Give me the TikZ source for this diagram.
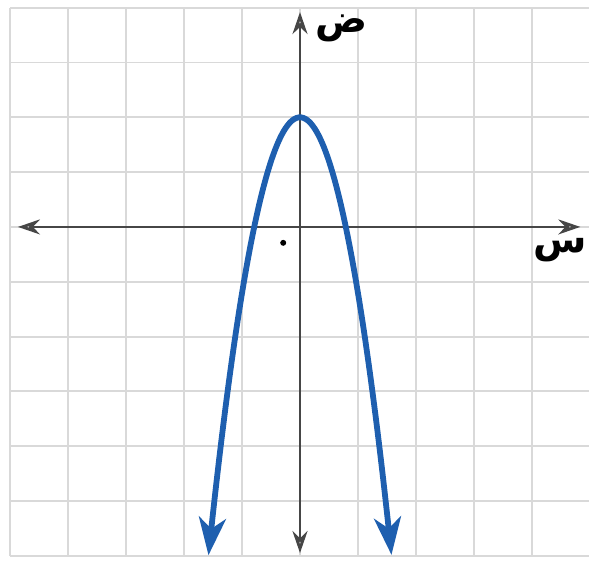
\documentclass[tikz,border=0pt]{standalone}
\usepackage{fontspec}
\usetikzlibrary{arrows.meta}
\newfontfamily\arabicfont[Script=Arabic]{DejaVu Sans}
\TeXXeTstate=1
\definecolor{curveblue}{RGB}{30,95,175}
\definecolor{axisgray}{RGB}{70,70,70}

\begin{document}
\begin{tikzpicture}[x=1.158cm, y=1.096cm,
    gridline/.style={draw=gray!30, line width=1.1pt},
    axisline/.style={draw=axisgray, line width=1.6pt, {Stealth[open, length=4.4mm, width=3mm]}-{Stealth[open, length=4.4mm, width=3mm]}},
    curveline/.style={draw=curveblue, line width=3.3pt, {Stealth[length=7.5mm, width=5.4mm, inset=2.2mm]}-{Stealth[length=7.5mm, width=5.4mm, inset=2.2mm]}},
    axislabel/.style={font=\fontsize{22}{26}\selectfont\arabicfont\bfseries, inner sep=0pt}]
  \useasboundingbox (-5.18,-6.13) rectangle (4.99,4.14);
  % Grid
  \draw[gridline, xstep=1.158cm, ystep=1.096cm] (-5,-6) grid (5,4);
  % Axis end points
  \coordinate (xleft) at (-4.87, 0);
  \coordinate (xright) at (4.84, 0);
  \coordinate (ytop) at (0, 3.92);
  \coordinate (ybottom) at (0, -5.95);
  % Axes
  \draw[axisline] (xleft) -- (xright);
  \draw[axisline] (ybottom) -- (ytop);
  % Axis labels
  \node[axislabel] (ylabel) at (0.72, 3.62) {\beginR ض\endR};
  \node[axislabel] (xlabel) at (4.5, -0.42) {\beginR س\endR};
  % Small mark near origin
  \fill[black] (-0.29, -0.29) circle (0.06cm);
  % Parabola
  \draw[curveline] plot[domain=-1.58:1.58, samples=80, smooth] (\x, {2 - 3.2*\x*\x});
\end{tikzpicture}
\end{document}
